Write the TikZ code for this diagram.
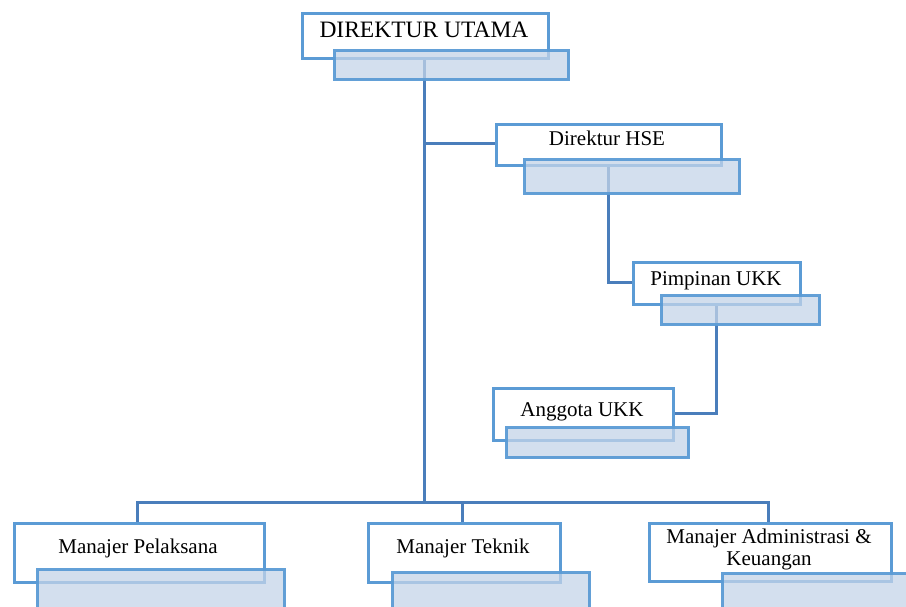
\documentclass[tikz,border=0pt]{standalone}
\usepackage{fontspec}
\setmainfont{Liberation Serif}
\definecolor{boxline}{HTML}{5B9BD5}
\definecolor{conn}{HTML}{4A7EBB}
\definecolor{shade}{HTML}{C4D4E8}
\tikzset{
  wbox/.style={draw=boxline, line width=3pt, fill=white, rectangle, inner sep=0pt, anchor=north west},
  bbox/.style={draw=boxline, line width=3pt, fill=shade, fill opacity=0.75, draw opacity=0.95, rectangle, inner sep=0pt, anchor=north west},
  conline/.style={draw=conn, line width=3pt},
  lbl/.style={anchor=base, inner sep=0pt, font=\fontsize{21}{22}\selectfont},
}
\begin{document}
\begin{tikzpicture}[x=1pt, y=-1pt]
\useasboundingbox (0,0) rectangle (906,606);
\clip (0,0) rectangle (906,606);
% white boxes
\node[wbox, minimum width=246pt, minimum height=45pt] (w0) at (301,12) {};
\node[wbox, minimum width=225pt, minimum height=41pt] (w1) at (495,123) {};
\node[wbox, minimum width=167pt, minimum height=42pt] (w2) at (632,261) {};
\node[wbox, minimum width=180pt, minimum height=52pt] (w3) at (492,387) {};
\node[wbox, minimum width=250pt, minimum height=59pt] (w4) at (13,522) {};
\node[wbox, minimum width=192pt, minimum height=59pt] (w5) at (367,522) {};
\node[wbox, minimum width=242pt, minimum height=58pt] (w6) at (648,522) {};
% helper coordinates
\coordinate (j0) at (424,143);
\coordinate (bus) at (424,502);
\coordinate (busL) at (137,502);
\coordinate (busM) at (462,502);
\coordinate (busR) at (768,502);
\coordinate (k1) at (608,282);
\coordinate (k2) at (716,413);
% connectors
\draw[conline] (w0.south -| j0) -- (bus);
\draw[conline] (j0) -- (w1.west |- j0);
\draw[conline] (w1.south -| k1) -- (k1) -- (w2.west |- k1);
\draw[conline] (w2.south -| k2) -- (k2) -- (w3.east |- k2);
\draw[conline] (w4.north -| busL) -- (busL) -- (busR) -- (w6.north -| busR);
\draw[conline] (busM) -- (w5.north -| busM);
% shaded boxes
\node[bbox, minimum width=234pt, minimum height=29pt] (b0) at (333,49) {};
\node[bbox, minimum width=215pt, minimum height=34pt] (b1) at (523,158) {};
\node[bbox, minimum width=158pt, minimum height=29pt] (b2) at (660,294) {};
\node[bbox, minimum width=182pt, minimum height=30pt] (b3) at (505,426) {};
\node[bbox, minimum width=247pt, minimum height=50pt] (b4) at (36,568) {};
\node[bbox, minimum width=197pt, minimum height=50pt] (b5) at (391,571) {};
\node[bbox, minimum width=200pt, minimum height=50pt] (b6) at (721,572) {};
% labels
\node[lbl, font=\fontsize{23.5}{25}\selectfont] (t0) at (424,37) {DIREKTUR UTAMA};
\node[lbl] (t1) at (607,145) {Direktur HSE};
\node[lbl] (t2) at (716,285) {Pimpinan UKK};
\node[lbl] (t3) at (582,416) {Anggota UKK};
\node[lbl] (t4) at (138,553) {Manajer Pelaksana};
\node[lbl] (t5) at (463,553) {Manajer Teknik};
\node[lbl] (t6) at (769,543) {Manajer Administrasi \&};
\node[lbl] (t7) at (769,565) {Keuangan};
\end{tikzpicture}
\end{document}
